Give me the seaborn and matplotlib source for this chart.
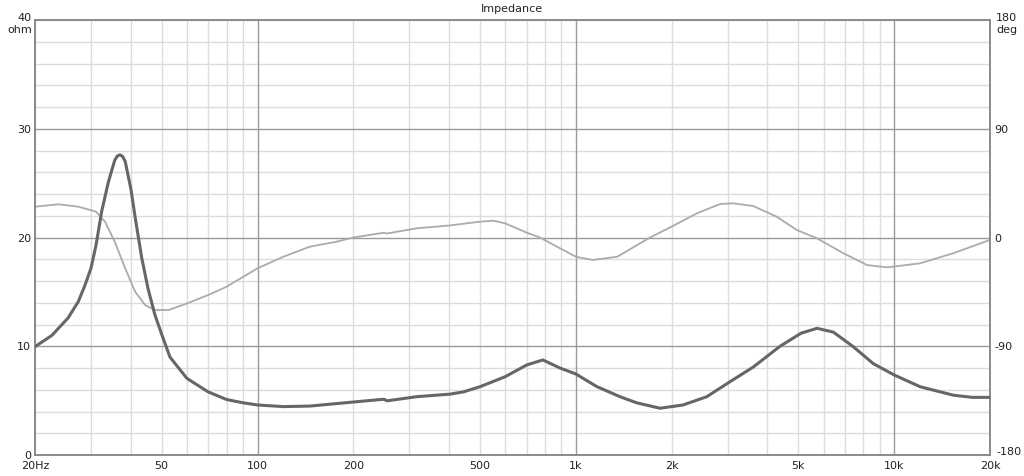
import numpy as np
import pandas as pd
import matplotlib
matplotlib.use("Agg")
import matplotlib.pyplot as plt
import seaborn as sns
from matplotlib.ticker import FixedLocator, NullFormatter, NullLocator

# ---- data ----
imp_freq = [20, 22.6, 25.4, 27.35, 28.7, 30, 31.1, 32.4, 34, 35.6, 36.3, 37, 37.7,
            38.4, 40, 41.3, 43.3, 45.3, 47.6, 50, 53.1, 60, 70, 80, 90, 100, 120.6,
            146, 173, 243, 250, 255, 316, 403, 443, 500, 600, 701, 788, 891, 1000,
            1162, 1376, 1553, 1838, 2171, 2578, 3050, 3614, 4380, 5100, 5724, 6440,
            7410, 8600, 10000, 12060, 15340, 17600, 20000]
imp_ohm = [9.96, 11.0, 12.6, 14.1, 15.6, 17.2, 19.3, 22.4, 25.1, 27.1, 27.5, 27.6,
           27.45, 27.0, 24.5, 21.8, 18.1, 15.3, 12.9, 11.1, 9.0, 7.05, 5.8, 5.1, 4.8,
           4.6, 4.45, 4.5, 4.7, 5.1, 5.12, 4.98, 5.36, 5.6, 5.8, 6.28, 7.2, 8.28,
           8.74, 8.0, 7.45, 6.3, 5.36, 4.8, 4.3, 4.6, 5.36, 6.74, 8.1, 10.0, 11.2,
           11.65, 11.3, 10.0, 8.4, 7.36, 6.28, 5.5, 5.3, 5.3]

ph_freq = [20, 23.7, 27.35, 31.1, 33.2, 35.6, 38.4, 41.3, 44.4, 47.6, 52.6, 59.4,
           70, 80, 100, 120.6, 146, 177, 200, 243, 250, 255, 316, 403, 500, 551,
           600, 701, 771, 850, 1000, 1130, 1350, 1710, 2000, 2400, 2838, 3120, 3614,
           4277, 4944, 5724, 6920, 8220, 9490, 12060, 15340, 20000]
ph_deg = [25.5, 27.5, 25.5, 21.4, 13, -3.5, -25.5, -45, -56, -60, -60, -55, -47.6,
          -40.7, -25.5, -15.9, -7.6, -3.5, 0, 3.5, 3.9, 3.3, 7.6, 10, 13.1, 13.9,
          11.7, 4, 0, -6, -15.9, -18.6, -15.9, 0, 9, 20, 27.7, 28.3, 26, 17.2, 6.2,
          -0.7, -13, -22.8, -24.7, -21.4, -13, -2]

x_ticks = [20, 50, 100, 200, 500, 1000, 2000, 5000, 10000, 20000]
x_tick_labels = ["20Hz", "50", "100", "200", "500", "1k", "2k", "5k", "10k", "20k"]
left_ticks = [0, 10, 20, 30, 40]
right_ticks = [-180, -90, 0, 90, 180]

imp_df = pd.DataFrame({"freq": imp_freq, "ohm": imp_ohm})
ph_df = pd.DataFrame({"freq": ph_freq, "deg": ph_deg})

sns.set_style("white")
plt.rcParams["font.family"] = ["DejaVu Sans"]

fig = plt.figure(figsize=(10.24, 4.76), dpi=100)
W, H = 1024, 476
ax2 = fig.add_axes([35 / W, (H - 455) / H, 955 / W, 435 / H])
ax = ax2.twinx()
ax2.yaxis.tick_right()
ax.yaxis.tick_left()

ax2.set_zorder(1)
ax.set_zorder(2)
ax.patch.set_visible(False)

ax2.set_xscale("log")
ax2.set_xlim(20, 20000)
ax2.set_ylim(-180, 180)
ax.set_ylim(0, 40)

minor_x = [f * d for d in (10, 100, 1000, 10000) for f in range(2, 10)]
minor_x = [v for v in minor_x if 20 <= v <= 20000]
for v in minor_x:
    ax2.axvline(v, color="#dcdcdc", lw=1, zorder=0)
for v in (100, 1000, 10000):
    ax2.axvline(v, color="#9a9a9a", lw=1, zorder=0.5)
for d in np.arange(-180, 181, 18):
    if d in (-90, 0, 90):
        continue
    ax2.axhline(d, color="#dcdcdc", lw=1, zorder=0)
for d in (-90, 0, 90):
    ax2.axhline(d, color="#9a9a9a", lw=1, zorder=0.5)

sns.lineplot(data=ph_df, x="freq", y="deg", ax=ax2, color="#ababab", lw=1.3, zorder=2)
sns.lineplot(data=imp_df, x="freq", y="ohm", ax=ax, color="#666666", lw=2.2, zorder=3)

ax2.xaxis.set_major_locator(FixedLocator(x_ticks))
ax2.xaxis.set_major_formatter(matplotlib.ticker.FixedFormatter(x_tick_labels))
ax2.xaxis.set_minor_locator(NullLocator())
ax2.set_yticks(right_ticks)
ax2.set_yticklabels(["", "-90", "0", "90", ""])
ax.set_yticks(left_ticks)
ax.set_yticklabels(["0", "10", "20", "30", ""])
ax.tick_params(axis="x", labelbottom=False, bottom=False)

for a in (ax, ax2):
    a.tick_params(which="both", length=0, labelsize=8, colors="#222222", pad=3)
    a.set_xlabel("")
    a.set_ylabel("")
    for s in a.spines.values():
        s.set_color("#8a8a8a")
        s.set_linewidth(1.2)
ax2.tick_params(axis="x", pad=4)

fs = 8
fig.text(32 / W, 1 - 18 / H, "40", ha="right", va="center", fontsize=fs, color="#222222")
fig.text(32 / W, 1 - 30 / H, "ohm", ha="right", va="center", fontsize=fs, color="#222222")
fig.text(996 / W, 1 - 18 / H, "180", ha="left", va="center", fontsize=fs, color="#222222")
fig.text(996 / W, 1 - 30 / H, "deg", ha="left", va="center", fontsize=fs, color="#222222")
fig.text(996 / W, 1 - 452 / H, "-180", ha="left", va="center", fontsize=fs, color="#222222")
fig.text(0.5, 1 - 9 / H, "Impedance", ha="center", va="center", fontsize=fs, color="#222222")

fig.savefig("out.png", dpi=100, facecolor="white")
